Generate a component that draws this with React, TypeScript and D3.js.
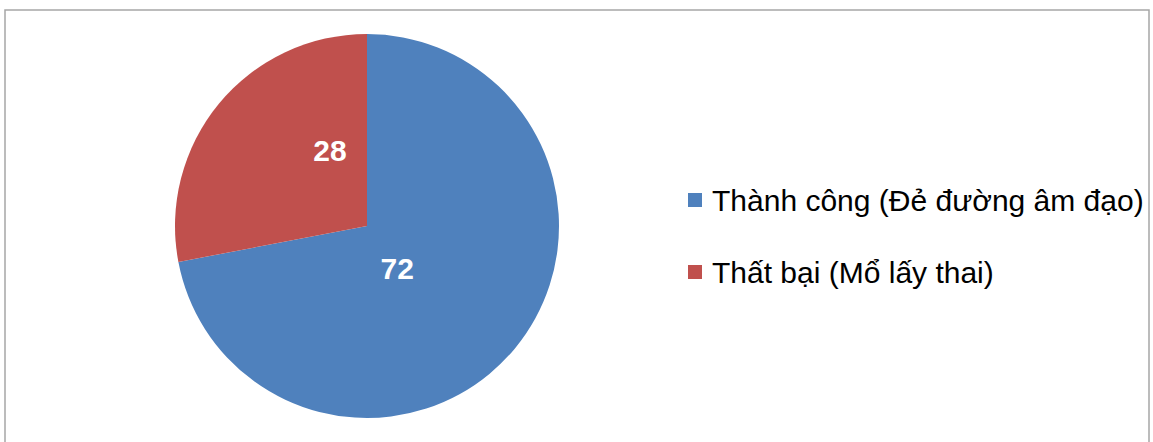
import React from "react";
import * as d3 from "d3";

const categories = ["Thành công (Đẻ đường âm đạo)", "Thất bại (Mổ lấy thai)"];
const values = [72, 28];
const colors = ["#4F81BD", "#C0504D"];

// label placement (fraction along slice angle, fraction of radius)
const labelAngleFrac = [0.557, 0.742];
const labelRadiusFrac = [0.27, 0.44];

const W = 1153;
const H = 442;
const cx = 367;
const cy = 226;
const R = 192;
const FONT = "'Liberation Sans', Arial, sans-serif";

export default function App() {
  const pie = d3.pie<number>().sort(null).value((d) => d)(values);
  const arc = d3.arc<d3.PieArcDatum<number>>().innerRadius(0).outerRadius(R);
  const legendY = d3.scalePoint<string>().domain(categories).range([200, 272]);

  return (
    <div style={{ position: "absolute", left: 0, top: 0, width: W, height: H, background: "#fff" }}>
      <svg width={W} height={H} style={{ display: "block" }}>
        <rect x={5} y={10} width={1144} height={440} fill="#fff" stroke="#a6a6a6" strokeWidth={1.5} />
        <g transform={`translate(${cx},${cy})`}>
          {pie.map((p, i) => (
            <path key={i} d={arc(p) || ""} fill={colors[i]} />
          ))}
          {pie.map((p, i) => {
            const a = p.startAngle + (p.endAngle - p.startAngle) * labelAngleFrac[i];
            const r = R * labelRadiusFrac[i];
            const x = Math.sin(a) * r;
            const y = -Math.cos(a) * r;
            return (
              <text
                key={"l" + i}
                x={x}
                y={y}
                textAnchor="middle"
                dominantBaseline="central"
                fill="#fff"
                fontFamily={FONT}
                fontWeight="bold"
                fontSize={30}
              >
                {values[i]}
              </text>
            );
          })}
        </g>
        {categories.map((c, i) => {
          const y = legendY(c) as number;
          return (
            <g key={"lg" + i}>
              <rect x={688} y={y - 7} width={14} height={14} fill={colors[i]} />
              <text x={712} y={y + 11} fontFamily={FONT} fontSize={30} fill="#000">
                {c}
              </text>
            </g>
          );
        })}
      </svg>
    </div>
  );
}
